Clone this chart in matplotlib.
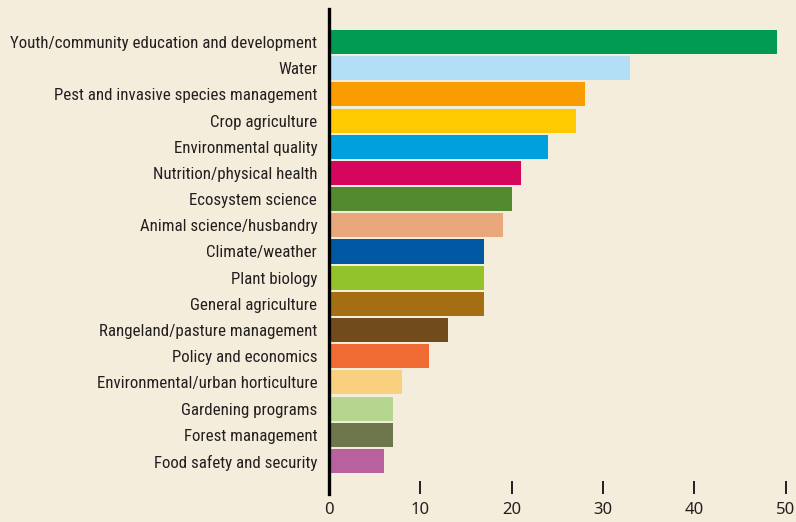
import matplotlib
matplotlib.use("Agg")
import matplotlib.pyplot as plt
from matplotlib import font_manager
import numpy as np

# program areas, top to bottom
categories = [
    "Youth/community education and development",
    "Water",
    "Pest and invasive species management",
    "Crop agriculture",
    "Environmental quality",
    "Nutrition/physical health",
    "Ecosystem science",
    "Animal science/husbandry",
    "Climate/weather",
    "Plant biology",
    "General agriculture",
    "Rangeland/pasture management",
    "Policy and economics",
    "Environmental/urban horticulture",
    "Gardening programs",
    "Forest management",
    "Food safety and security",
]
values = [49, 33, 28, 27, 24, 21, 20, 19, 17, 17, 17, 13, 11, 8, 7, 7, 6]
colors = ["#009a53", "#b2dff5", "#f89c00", "#ffcb00", "#00a0dc", "#d6065c",
          "#548a2f", "#e8a87c", "#0057a2", "#92c32b", "#a56e12", "#714b1c",
          "#ef6b33", "#f9cf80", "#b6d690", "#6d774b", "#b9619e"]
xticks = [0, 10, 20, 30, 40, 50]

bg = "#f4eddc"
txt = "#231f20"


def narrow_font():
    # look for a condensed sans face among the installed fonts
    best = None
    for f in font_manager.fontManager.ttflist:
        low = (f.name + " " + f.fname).lower()
        narrow = ("narrow" in low or "condensed" in low
                  or f.stretch in ("condensed", "semi-condensed", "extra-condensed"))
        if not narrow or f.style != "normal":
            continue
        if "semi" in low or "extra" in low or "ultra" in low:
            continue
        if "mono" in low or "serif" in f.name.lower() and "sans" not in f.name.lower():
            continue
        if f.weight not in (400, "normal", "regular", "book"):
            continue
        rank = 0 if "liberation" in low else 1 if "roboto" in low else 2 if "noto" in low \
            else 3 if "open" in low else 5 if "dejavu" in low else 4
        if best is None or rank < best[0]:
            best = (rank, f.fname)
    if best is None:
        return font_manager.FontProperties(family="DejaVu Sans", stretch="condensed")
    return font_manager.FontProperties(fname=best[1])


label_fp = narrow_font()

fig = plt.figure(figsize=(7.96, 5.22), dpi=100, facecolor=bg)
ax = fig.add_axes([329/796, 1 - 494/522, (785.7 - 329)/796, (494 - 9)/522])
ax.set_facecolor(bg)

y = np.arange(len(categories))
ax.barh(y, values, height=0.92, color=colors, zorder=2)

ax.set_xlim(0, 50)
ax.set_ylim(len(categories) - 1 + 1.26, -1.26)

# size the labels so the longest one spans about 304 px, as in the reference
renderer = fig.canvas.get_renderer()
probe = fig.text(0, 0, max(categories, key=len), fontproperties=label_fp, fontsize=10)
w10 = probe.get_window_extent(renderer).width
probe.remove()
label_size = min(12.5, 10 * 304 / w10)

ax.set_yticks(y)
ax.set_yticklabels(categories, fontproperties=label_fp, fontsize=label_size, color=txt)
ax.tick_params(axis="y", length=0, pad=8.5)

ax.set_xticks(xticks)
ax.set_xticklabels([str(t) for t in xticks], fontsize=12, color=txt, family="Noto Sans")
ax.tick_params(axis="x", direction="in", length=9.4, width=1.4, color=txt, pad=6)

for s in ["top", "right", "bottom"]:
    ax.spines[s].set_visible(False)
ax.spines["left"].set_linewidth(2.4)
ax.spines["left"].set_color("black")
ax.spines["left"].set_zorder(3)

fig.savefig("out.png", dpi=100, facecolor=bg)
